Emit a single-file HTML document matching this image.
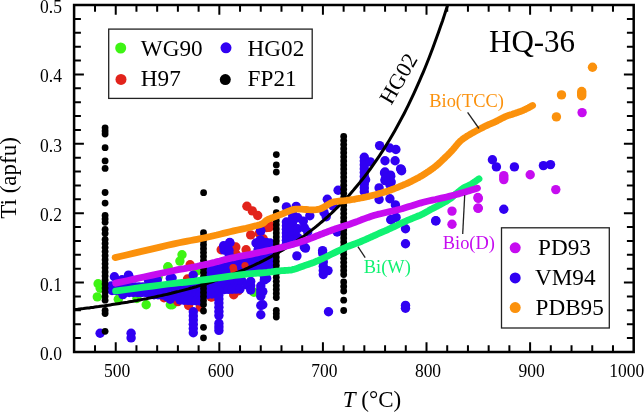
<!DOCTYPE html><html><head><meta charset="utf-8"><style>html,body{margin:0;padding:0;background:#fff;}svg{display:block;will-change:transform;filter:blur(0.35px);} text{font-family:"Liberation Serif",serif;}</style></head><body><svg width="644" height="412" viewBox="0 0 644 412"><g fill="none" stroke="#3ef414" stroke-width="9.4" stroke-linecap="round" stroke-linejoin="round"><path d="M98.1,283.7h0"/><path d="M97.3,296.9h0"/><path d="M100.2,288.3h0"/><path d="M118.3,299.3h0"/><path d="M136.9,298.5h0"/><path d="M146.2,304.7h0"/><path d="M168.0,267.4h0"/><path d="M170.3,304.7h0"/><path d="M157.9,277.5h0"/><path d="M182.0,254.7h0"/><path d="M179.9,261.1h0"/><path d="M167.9,266.7h0"/><path d="M158.0,275.8h0"/><path d="M196.8,270.9h0"/><path d="M172.3,304.7h0"/><path d="M253.9,292.3h0"/></g><g fill="none" stroke="#e2231b" stroke-width="9.4" stroke-linecap="round" stroke-linejoin="round"><path d="M164.0,297.7h0"/><path d="M238.3,289.2h0"/><path d="M233.7,268.2h0"/><path d="M211.9,296.9h0"/><path d="M188.6,305.5h0"/><path d="M177.8,301.6h0"/><path d="M200.3,307.1h0"/><path d="M244.5,266.6h0"/><path d="M253.9,264.3h0"/><path d="M246.9,206.2h0"/><path d="M252.3,210.9h0"/><path d="M257.7,215.5h0"/><path d="M250.7,234.9h0"/><path d="M259.3,233.4h0"/><path d="M263.2,238.8h0"/><path d="M221.2,249.7h0"/><path d="M235.2,247.4h0"/><path d="M246.1,249.7h0"/><path d="M266.7,227.5h0"/><path d="M269.8,225.1h0"/><path d="M211.1,297.0h0"/><path d="M233.7,294.7h0"/><path d="M238.3,290.8h0"/><path d="M235.8,247.0h0"/><path d="M190.1,264.8h0"/><path d="M187.5,279.0h0"/><path d="M236.0,254.0h0"/><path d="M269.1,227.4h0"/></g><g fill="#3000f2"><circle cx="100.1" cy="333.2" r="4.7"/><circle cx="131.1" cy="333.2" r="4.7"/><circle cx="131.1" cy="337.9" r="4.7"/><circle cx="114.4" cy="276.7" r="4.7"/><circle cx="129.1" cy="276.7" r="4.7"/><circle cx="122.1" cy="279.8" r="4.7"/><circle cx="111.3" cy="286.0" r="4.7"/><circle cx="122.9" cy="294.6" r="4.7"/><circle cx="139.2" cy="292.3" r="4.7"/><circle cx="148.5" cy="280.6" r="4.7"/><circle cx="154.7" cy="281.4" r="4.7"/><circle cx="170.3" cy="278.3" r="4.7"/><circle cx="167.2" cy="296.9" r="4.7"/><circle cx="170.3" cy="299.3" r="4.7"/><circle cx="128.5" cy="275.1" r="4.7"/><circle cx="151.7" cy="280.1" r="4.7"/><circle cx="157.3" cy="280.1" r="4.7"/><circle cx="172.1" cy="278.0" r="4.7"/><circle cx="193.2" cy="275.1" r="4.7"/><circle cx="112.0" cy="287.0" r="4.7"/><circle cx="115.9" cy="287.0" r="4.7"/><circle cx="119.8" cy="287.0" r="4.7"/><circle cx="123.6" cy="287.0" r="4.7"/><circle cx="127.5" cy="287.0" r="4.7"/><circle cx="131.4" cy="287.0" r="4.7"/><circle cx="135.2" cy="287.0" r="4.7"/><circle cx="139.1" cy="287.0" r="4.7"/><circle cx="143.0" cy="287.0" r="4.7"/><circle cx="146.9" cy="287.0" r="4.7"/><circle cx="150.8" cy="287.0" r="4.7"/><circle cx="154.6" cy="287.0" r="4.7"/><circle cx="158.5" cy="287.0" r="4.7"/><circle cx="162.4" cy="287.0" r="4.7"/><circle cx="166.2" cy="287.0" r="4.7"/><circle cx="170.1" cy="287.0" r="4.7"/><circle cx="174.0" cy="287.0" r="4.7"/><circle cx="112.0" cy="290.5" r="4.7"/><circle cx="115.9" cy="290.5" r="4.7"/><circle cx="119.8" cy="290.5" r="4.7"/><circle cx="123.6" cy="290.5" r="4.7"/><circle cx="127.5" cy="290.5" r="4.7"/><circle cx="131.4" cy="290.5" r="4.7"/><circle cx="135.2" cy="290.5" r="4.7"/><circle cx="139.1" cy="290.5" r="4.7"/><circle cx="143.0" cy="290.5" r="4.7"/><circle cx="146.9" cy="290.5" r="4.7"/><circle cx="150.8" cy="290.5" r="4.7"/><circle cx="154.6" cy="290.5" r="4.7"/><circle cx="158.5" cy="290.5" r="4.7"/><circle cx="162.4" cy="290.5" r="4.7"/><circle cx="166.2" cy="290.5" r="4.7"/><circle cx="170.1" cy="290.5" r="4.7"/><circle cx="174.0" cy="290.5" r="4.7"/><circle cx="125.0" cy="292.5" r="4.7"/><circle cx="129.2" cy="292.5" r="4.7"/><circle cx="133.3" cy="292.5" r="4.7"/><circle cx="137.5" cy="292.5" r="4.7"/><circle cx="141.7" cy="292.5" r="4.7"/><circle cx="145.8" cy="292.5" r="4.7"/><circle cx="150.0" cy="292.5" r="4.7"/><circle cx="150.0" cy="294.5" r="4.7"/><circle cx="154.0" cy="294.7" r="4.7"/><circle cx="158.0" cy="294.8" r="4.7"/><circle cx="162.0" cy="295.0" r="4.7"/><circle cx="166.0" cy="295.2" r="4.7"/><circle cx="170.0" cy="295.3" r="4.7"/><circle cx="174.0" cy="295.5" r="4.7"/><circle cx="174.0" cy="285.0" r="4.7"/><circle cx="178.0" cy="284.8" r="4.7"/><circle cx="182.0" cy="284.5" r="4.7"/><circle cx="186.0" cy="284.3" r="4.7"/><circle cx="190.0" cy="284.1" r="4.7"/><circle cx="194.0" cy="283.8" r="4.7"/><circle cx="198.0" cy="283.6" r="4.7"/><circle cx="202.0" cy="283.4" r="4.7"/><circle cx="206.0" cy="283.1" r="4.7"/><circle cx="210.0" cy="282.9" r="4.7"/><circle cx="214.0" cy="282.6" r="4.7"/><circle cx="218.0" cy="282.4" r="4.7"/><circle cx="222.0" cy="282.2" r="4.7"/><circle cx="226.0" cy="281.9" r="4.7"/><circle cx="230.0" cy="281.7" r="4.7"/><circle cx="234.0" cy="281.5" r="4.7"/><circle cx="238.0" cy="281.2" r="4.7"/><circle cx="242.0" cy="281.0" r="4.7"/><circle cx="174.0" cy="291.0" r="4.7"/><circle cx="177.9" cy="290.9" r="4.7"/><circle cx="181.8" cy="290.8" r="4.7"/><circle cx="185.6" cy="290.6" r="4.7"/><circle cx="189.5" cy="290.5" r="4.7"/><circle cx="193.4" cy="290.4" r="4.7"/><circle cx="197.3" cy="290.3" r="4.7"/><circle cx="201.2" cy="290.2" r="4.7"/><circle cx="205.1" cy="290.1" r="4.7"/><circle cx="208.9" cy="289.9" r="4.7"/><circle cx="212.8" cy="289.8" r="4.7"/><circle cx="216.7" cy="289.7" r="4.7"/><circle cx="220.6" cy="289.6" r="4.7"/><circle cx="224.5" cy="289.5" r="4.7"/><circle cx="228.4" cy="289.4" r="4.7"/><circle cx="232.2" cy="289.2" r="4.7"/><circle cx="236.1" cy="289.1" r="4.7"/><circle cx="240.0" cy="289.0" r="4.7"/><circle cx="176.0" cy="296.0" r="4.7"/><circle cx="180.0" cy="295.8" r="4.7"/><circle cx="184.0" cy="295.6" r="4.7"/><circle cx="188.0" cy="295.3" r="4.7"/><circle cx="192.0" cy="295.1" r="4.7"/><circle cx="196.0" cy="294.9" r="4.7"/><circle cx="200.0" cy="294.7" r="4.7"/><circle cx="204.0" cy="294.4" r="4.7"/><circle cx="208.0" cy="294.2" r="4.7"/><circle cx="212.0" cy="294.0" r="4.7"/><circle cx="180.0" cy="300.0" r="4.7"/><circle cx="184.0" cy="300.2" r="4.7"/><circle cx="188.0" cy="300.4" r="4.7"/><circle cx="192.0" cy="300.6" r="4.7"/><circle cx="196.0" cy="300.8" r="4.7"/><circle cx="200.0" cy="301.0" r="4.7"/><circle cx="212.0" cy="268.0" r="4.7"/><circle cx="216.0" cy="267.3" r="4.7"/><circle cx="220.0" cy="266.6" r="4.7"/><circle cx="224.0" cy="265.9" r="4.7"/><circle cx="228.0" cy="265.2" r="4.7"/><circle cx="232.0" cy="264.5" r="4.7"/><circle cx="236.0" cy="263.8" r="4.7"/><circle cx="240.0" cy="263.1" r="4.7"/><circle cx="244.0" cy="262.4" r="4.7"/><circle cx="248.0" cy="261.7" r="4.7"/><circle cx="252.0" cy="261.0" r="4.7"/><circle cx="256.0" cy="260.3" r="4.7"/><circle cx="260.0" cy="259.6" r="4.7"/><circle cx="264.0" cy="258.9" r="4.7"/><circle cx="268.0" cy="258.2" r="4.7"/><circle cx="272.0" cy="257.5" r="4.7"/><circle cx="208.0" cy="272.0" r="4.7"/><circle cx="212.0" cy="271.5" r="4.7"/><circle cx="216.0" cy="271.0" r="4.7"/><circle cx="220.0" cy="270.5" r="4.7"/><circle cx="224.0" cy="270.0" r="4.7"/><circle cx="228.0" cy="269.5" r="4.7"/><circle cx="232.0" cy="269.0" r="4.7"/><circle cx="236.0" cy="268.5" r="4.7"/><circle cx="240.0" cy="268.0" r="4.7"/><circle cx="244.0" cy="267.5" r="4.7"/><circle cx="248.0" cy="267.0" r="4.7"/><circle cx="252.0" cy="266.5" r="4.7"/><circle cx="256.0" cy="266.0" r="4.7"/><circle cx="260.0" cy="265.5" r="4.7"/><circle cx="264.0" cy="265.0" r="4.7"/><circle cx="268.0" cy="264.5" r="4.7"/><circle cx="272.0" cy="264.0" r="4.7"/><circle cx="208.0" cy="276.0" r="4.7"/><circle cx="212.0" cy="275.6" r="4.7"/><circle cx="216.0" cy="275.2" r="4.7"/><circle cx="220.0" cy="274.9" r="4.7"/><circle cx="224.0" cy="274.5" r="4.7"/><circle cx="228.0" cy="274.1" r="4.7"/><circle cx="232.0" cy="273.8" r="4.7"/><circle cx="236.0" cy="273.4" r="4.7"/><circle cx="240.0" cy="273.0" r="4.7"/><circle cx="244.0" cy="272.6" r="4.7"/><circle cx="248.0" cy="272.2" r="4.7"/><circle cx="252.0" cy="271.9" r="4.7"/><circle cx="256.0" cy="271.5" r="4.7"/><circle cx="260.0" cy="271.1" r="4.7"/><circle cx="264.0" cy="270.8" r="4.7"/><circle cx="268.0" cy="270.4" r="4.7"/><circle cx="272.0" cy="270.0" r="4.7"/><circle cx="229.0" cy="254.0" r="4.7"/><circle cx="224.0" cy="250.0" r="4.7"/><circle cx="256.0" cy="243.0" r="4.7"/><circle cx="259.5" cy="243.0" r="4.7"/><circle cx="263.0" cy="243.0" r="4.7"/><circle cx="266.5" cy="243.0" r="4.7"/><circle cx="270.0" cy="243.0" r="4.7"/><circle cx="258.0" cy="250.0" r="4.7"/><circle cx="262.0" cy="250.0" r="4.7"/><circle cx="266.0" cy="250.0" r="4.7"/><circle cx="270.0" cy="250.0" r="4.7"/><circle cx="226.1" cy="246.2" r="4.7"/><circle cx="229.8" cy="242.5" r="4.7"/><circle cx="247.0" cy="285.0" r="4.7"/><circle cx="193.3" cy="311.7" r="4.7"/><circle cx="193.3" cy="315.9" r="4.7"/><circle cx="193.3" cy="320.1" r="4.7"/><circle cx="193.3" cy="324.3" r="4.7"/><circle cx="193.3" cy="328.5" r="4.7"/><circle cx="193.3" cy="332.7" r="4.7"/><circle cx="218.9" cy="290.7" r="4.7"/><circle cx="218.9" cy="294.9" r="4.7"/><circle cx="218.9" cy="299.0" r="4.7"/><circle cx="218.9" cy="303.1" r="4.7"/><circle cx="218.9" cy="307.3" r="4.7"/><circle cx="218.9" cy="311.5" r="4.7"/><circle cx="218.9" cy="315.6" r="4.7"/><circle cx="218.9" cy="323.4" r="4.7"/><circle cx="218.9" cy="326.9" r="4.7"/><circle cx="218.9" cy="330.4" r="4.7"/><circle cx="250.7" cy="281.4" r="4.7"/><circle cx="250.7" cy="285.7" r="4.7"/><circle cx="250.7" cy="290.0" r="4.7"/><circle cx="260.8" cy="286.0" r="4.7"/><circle cx="260.8" cy="289.4" r="4.7"/><circle cx="260.8" cy="292.8" r="4.7"/><circle cx="260.8" cy="296.2" r="4.7"/><circle cx="260.8" cy="305.5" r="4.7"/><circle cx="260.8" cy="314.8" r="4.7"/><circle cx="223.6" cy="245.8" r="4.7"/><circle cx="229.8" cy="242.7" r="4.7"/><circle cx="229.0" cy="250.5" r="4.7"/><circle cx="260.8" cy="231.1" r="4.7"/><circle cx="260.0" cy="240.4" r="4.7"/><circle cx="266.3" cy="242.7" r="4.7"/><circle cx="258.5" cy="246.6" r="4.7"/><circle cx="260.6" cy="230.2" r="4.7"/><circle cx="260.6" cy="240.1" r="4.7"/><circle cx="265.6" cy="242.9" r="4.7"/><circle cx="264.3" cy="245.0" r="4.7"/><circle cx="264.3" cy="248.9" r="4.7"/><circle cx="264.3" cy="252.8" r="4.7"/><circle cx="264.3" cy="256.7" r="4.7"/><circle cx="264.3" cy="260.6" r="4.7"/><circle cx="264.3" cy="264.4" r="4.7"/><circle cx="264.3" cy="268.3" r="4.7"/><circle cx="264.3" cy="272.2" r="4.7"/><circle cx="264.3" cy="276.1" r="4.7"/><circle cx="264.3" cy="280.0" r="4.7"/><circle cx="262.8" cy="291.6" r="4.7"/><circle cx="262.8" cy="304.8" r="4.7"/><circle cx="266.7" cy="278.4" r="4.7"/><circle cx="286.4" cy="206.9" r="4.7"/><circle cx="296.2" cy="206.4" r="4.7"/><circle cx="286.4" cy="222.0" r="4.7"/><circle cx="286.4" cy="225.7" r="4.7"/><circle cx="286.4" cy="229.3" r="4.7"/><circle cx="286.4" cy="233.0" r="4.7"/><circle cx="286.4" cy="236.7" r="4.7"/><circle cx="286.4" cy="240.3" r="4.7"/><circle cx="286.4" cy="244.0" r="4.7"/><circle cx="292.5" cy="214.0" r="4.7"/><circle cx="292.5" cy="218.3" r="4.7"/><circle cx="292.5" cy="222.7" r="4.7"/><circle cx="292.5" cy="227.0" r="4.7"/><circle cx="292.5" cy="231.3" r="4.7"/><circle cx="292.5" cy="235.7" r="4.7"/><circle cx="292.5" cy="240.0" r="4.7"/><circle cx="297.8" cy="217.8" r="4.7"/><circle cx="303.3" cy="221.1" r="4.7"/><circle cx="309.8" cy="215.7" r="4.7"/><circle cx="297.8" cy="228.8" r="4.7"/><circle cx="304.4" cy="227.7" r="4.7"/><circle cx="297.8" cy="237.5" r="4.7"/><circle cx="307.7" cy="232.0" r="4.7"/><circle cx="326.2" cy="216.7" r="4.7"/><circle cx="327.3" cy="199.3" r="4.7"/><circle cx="324.0" cy="212.4" r="4.7"/><circle cx="337.1" cy="232.0" r="4.7"/><circle cx="333.0" cy="206.0" r="4.7"/><circle cx="338.1" cy="190.2" r="4.7"/><circle cx="304.3" cy="247.1" r="4.7"/><circle cx="322.6" cy="250.6" r="4.7"/><circle cx="296.9" cy="255.9" r="4.7"/><circle cx="305.5" cy="248.1" r="4.7"/><circle cx="322.6" cy="252.8" r="4.7"/><circle cx="323.3" cy="262.1" r="4.7"/><circle cx="323.3" cy="266.2" r="4.7"/><circle cx="323.3" cy="270.4" r="4.7"/><circle cx="323.3" cy="274.5" r="4.7"/><circle cx="328.0" cy="270.6" r="4.7"/><circle cx="328.5" cy="311.8" r="4.7"/><circle cx="364.3" cy="157.3" r="4.7"/><circle cx="364.3" cy="161.1" r="4.7"/><circle cx="364.3" cy="164.9" r="4.7"/><circle cx="364.3" cy="168.8" r="4.7"/><circle cx="364.3" cy="172.6" r="4.7"/><circle cx="364.3" cy="176.4" r="4.7"/><circle cx="364.3" cy="180.2" r="4.7"/><circle cx="364.3" cy="184.1" r="4.7"/><circle cx="364.3" cy="187.9" r="4.7"/><circle cx="364.3" cy="191.7" r="4.7"/><circle cx="370.3" cy="161.9" r="4.7"/><circle cx="365.6" cy="179.8" r="4.7"/><circle cx="379.6" cy="145.6" r="4.7"/><circle cx="389.7" cy="148.0" r="4.7"/><circle cx="395.9" cy="149.5" r="4.7"/><circle cx="385.0" cy="160.7" r="4.7"/><circle cx="395.1" cy="160.7" r="4.7"/><circle cx="400.6" cy="168.9" r="4.7"/><circle cx="385.0" cy="172.0" r="4.7"/><circle cx="390.5" cy="175.1" r="4.7"/><circle cx="385.0" cy="180.6" r="4.7"/><circle cx="391.2" cy="182.1" r="4.7"/><circle cx="401.6" cy="170.8" r="4.7"/><circle cx="384.5" cy="173.1" r="4.7"/><circle cx="390.7" cy="176.2" r="4.7"/><circle cx="385.3" cy="179.3" r="4.7"/><circle cx="389.9" cy="184.8" r="4.7"/><circle cx="379.1" cy="187.9" r="4.7"/><circle cx="379.1" cy="199.5" r="4.7"/><circle cx="389.9" cy="198.7" r="4.7"/><circle cx="395.4" cy="204.9" r="4.7"/><circle cx="390.7" cy="219.7" r="4.7"/><circle cx="396.1" cy="217.4" r="4.7"/><circle cx="391.5" cy="219.7" r="4.7"/><circle cx="405.5" cy="228.7" r="4.7"/><circle cx="405.5" cy="243.7" r="4.7"/><circle cx="405.5" cy="305.4" r="4.7"/><circle cx="405.5" cy="308.2" r="4.7"/><circle cx="435.7" cy="220.9" r="4.7"/><circle cx="401.2" cy="169.5" r="4.7"/></g><g fill="none" stroke="#e2231b" stroke-width="7.2" stroke-linecap="round" stroke-linejoin="round"><path d="M233.0,267.5h0"/><path d="M233.5,268.0 L234.0,271.5" stroke-width="7.2"/><path d="M245.0,265.5h0"/></g><g fill="#000"><circle cx="105.1" cy="127.8" r="3.4"/><circle cx="105.1" cy="130.9" r="3.4"/><circle cx="105.1" cy="134.0" r="3.4"/><circle cx="105.1" cy="147.7" r="3.4"/><circle cx="105.1" cy="160.9" r="3.4"/><circle cx="105.1" cy="168.4" r="3.4"/><circle cx="105.1" cy="192.5" r="3.4"/><circle cx="105.1" cy="203.1" r="3.4"/><circle cx="105.1" cy="215.5" r="3.4"/><circle cx="105.1" cy="218.9" r="3.4"/><circle cx="105.1" cy="222.3" r="3.4"/><circle cx="105.1" cy="229.5" r="3.4"/><circle cx="105.1" cy="233.5" r="3.4"/><circle cx="105.1" cy="239.5" r="3.4"/><circle cx="105.1" cy="243.5" r="3.4"/><circle cx="105.1" cy="247.6" r="3.4"/><circle cx="105.1" cy="251.6" r="3.4"/><circle cx="105.1" cy="255.7" r="3.4"/><circle cx="105.1" cy="259.7" r="3.4"/><circle cx="105.1" cy="263.8" r="3.4"/><circle cx="105.1" cy="267.8" r="3.4"/><circle cx="105.1" cy="271.9" r="3.4"/><circle cx="105.1" cy="275.9" r="3.4"/><circle cx="105.1" cy="280.0" r="3.4"/><circle cx="105.1" cy="284.0" r="3.4"/><circle cx="105.1" cy="288.1" r="3.4"/><circle cx="105.1" cy="292.1" r="3.4"/><circle cx="105.1" cy="296.2" r="3.4"/><circle cx="105.1" cy="300.2" r="3.4"/><circle cx="105.1" cy="310.4" r="3.4"/><circle cx="105.1" cy="313.5" r="3.4"/><circle cx="105.1" cy="331.3" r="3.4"/><circle cx="203.6" cy="192.7" r="3.4"/><circle cx="203.5" cy="232.7" r="3.4"/><circle cx="203.5" cy="236.7" r="3.4"/><circle cx="203.5" cy="240.7" r="3.4"/><circle cx="203.5" cy="244.7" r="3.4"/><circle cx="203.5" cy="248.7" r="3.4"/><circle cx="203.5" cy="252.6" r="3.4"/><circle cx="203.5" cy="256.6" r="3.4"/><circle cx="203.5" cy="260.6" r="3.4"/><circle cx="203.5" cy="264.6" r="3.4"/><circle cx="203.5" cy="268.6" r="3.4"/><circle cx="203.5" cy="272.6" r="3.4"/><circle cx="203.5" cy="276.6" r="3.4"/><circle cx="203.5" cy="280.6" r="3.4"/><circle cx="203.5" cy="284.6" r="3.4"/><circle cx="203.5" cy="288.5" r="3.4"/><circle cx="203.5" cy="292.5" r="3.4"/><circle cx="203.5" cy="296.5" r="3.4"/><circle cx="203.5" cy="300.5" r="3.4"/><circle cx="203.5" cy="304.5" r="3.4"/><circle cx="203.5" cy="311.0" r="3.4"/><circle cx="203.5" cy="327.3" r="3.4"/><circle cx="203.5" cy="337.8" r="3.4"/><circle cx="276.3" cy="154.6" r="3.4"/><circle cx="276.3" cy="164.9" r="3.4"/><circle cx="276.3" cy="172.1" r="3.4"/><circle cx="276.3" cy="199.4" r="3.4"/><circle cx="276.3" cy="212.7" r="3.4"/><circle cx="276.3" cy="216.7" r="3.4"/><circle cx="276.3" cy="220.8" r="3.4"/><circle cx="276.3" cy="224.8" r="3.4"/><circle cx="276.3" cy="228.9" r="3.4"/><circle cx="276.3" cy="232.9" r="3.4"/><circle cx="276.3" cy="236.9" r="3.4"/><circle cx="276.3" cy="241.0" r="3.4"/><circle cx="276.3" cy="245.0" r="3.4"/><circle cx="276.3" cy="249.0" r="3.4"/><circle cx="276.3" cy="253.1" r="3.4"/><circle cx="276.3" cy="257.1" r="3.4"/><circle cx="276.3" cy="261.2" r="3.4"/><circle cx="276.3" cy="265.2" r="3.4"/><circle cx="276.3" cy="269.2" r="3.4"/><circle cx="276.3" cy="273.3" r="3.4"/><circle cx="276.3" cy="277.3" r="3.4"/><circle cx="276.3" cy="281.3" r="3.4"/><circle cx="276.3" cy="285.4" r="3.4"/><circle cx="276.3" cy="289.4" r="3.4"/><circle cx="276.3" cy="293.5" r="3.4"/><circle cx="276.3" cy="297.5" r="3.4"/><circle cx="276.3" cy="310.3" r="3.4"/><circle cx="276.3" cy="313.6" r="3.4"/><circle cx="276.3" cy="317.0" r="3.4"/><circle cx="343.7" cy="136.5" r="3.4"/><circle cx="343.7" cy="140.6" r="3.4"/><circle cx="343.7" cy="144.6" r="3.4"/><circle cx="343.7" cy="148.7" r="3.4"/><circle cx="343.7" cy="152.7" r="3.4"/><circle cx="343.7" cy="156.8" r="3.4"/><circle cx="343.7" cy="160.9" r="3.4"/><circle cx="343.7" cy="164.9" r="3.4"/><circle cx="343.7" cy="169.0" r="3.4"/><circle cx="343.7" cy="173.0" r="3.4"/><circle cx="343.7" cy="177.1" r="3.4"/><circle cx="343.7" cy="181.1" r="3.4"/><circle cx="343.7" cy="185.2" r="3.4"/><circle cx="343.7" cy="189.3" r="3.4"/><circle cx="343.7" cy="193.3" r="3.4"/><circle cx="343.7" cy="197.4" r="3.4"/><circle cx="343.7" cy="201.4" r="3.4"/><circle cx="343.7" cy="205.5" r="3.4"/><circle cx="343.7" cy="209.6" r="3.4"/><circle cx="343.7" cy="213.6" r="3.4"/><circle cx="343.7" cy="217.7" r="3.4"/><circle cx="343.7" cy="221.7" r="3.4"/><circle cx="343.7" cy="225.8" r="3.4"/><circle cx="343.7" cy="229.9" r="3.4"/><circle cx="343.7" cy="233.9" r="3.4"/><circle cx="343.7" cy="238.0" r="3.4"/><circle cx="343.7" cy="242.0" r="3.4"/><circle cx="343.7" cy="246.1" r="3.4"/><circle cx="343.7" cy="250.1" r="3.4"/><circle cx="343.7" cy="254.2" r="3.4"/><circle cx="343.7" cy="258.3" r="3.4"/><circle cx="343.7" cy="262.3" r="3.4"/><circle cx="343.7" cy="266.4" r="3.4"/><circle cx="343.7" cy="270.4" r="3.4"/><circle cx="343.7" cy="274.5" r="3.4"/><circle cx="343.7" cy="282.0" r="3.4"/><circle cx="343.7" cy="286.5" r="3.4"/><circle cx="343.7" cy="291.0" r="3.4"/><circle cx="343.7" cy="300.2" r="3.4"/><circle cx="343.7" cy="310.5" r="3.4"/></g><g clip-path="url(#pc)"><path d="M72.0,309.9 L73.9,309.7 L75.8,309.5 L77.7,309.3 L79.6,309.0 L81.5,308.8 L83.5,308.6 L85.4,308.3 L87.3,308.1 L89.2,307.9 L91.1,307.6 L93.0,307.4 L94.9,307.1 L96.8,306.8 L98.7,306.6 L100.6,306.3 L102.6,306.0 L104.5,305.8 L106.4,305.5 L108.3,305.2 L110.2,304.9 L112.1,304.6 L114.0,304.3 L115.9,304.0 L117.8,303.7 L119.7,303.4 L121.6,303.1 L123.6,302.8 L125.5,302.5 L127.4,302.2 L129.3,301.8 L131.2,301.5 L133.1,301.2 L135.0,300.8 L136.9,300.5 L138.8,300.1 L140.7,299.8 L142.7,299.4 L144.6,299.0 L146.5,298.7 L148.4,298.3 L150.3,297.9 L152.2,297.5 L154.1,297.1 L156.0,296.7 L157.9,296.3 L159.8,295.9 L161.7,295.5 L163.7,295.0 L165.6,294.6 L167.5,294.2 L169.4,293.7 L171.3,293.3 L173.2,292.8 L175.1,292.3 L177.0,291.8 L178.9,291.4 L180.8,290.9 L182.8,290.4 L184.7,289.9 L186.6,289.4 L188.5,288.9 L190.4,288.3 L192.3,287.8 L194.2,287.2 L196.1,286.7 L198.0,286.1 L199.9,285.6 L201.8,285.0 L203.8,284.4 L205.7,283.8 L207.6,283.2 L209.5,282.6 L211.4,282.0 L213.3,281.3 L215.2,280.7 L217.1,280.0 L219.0,279.4 L220.9,278.7 L222.9,278.0 L224.8,277.3 L226.7,276.6 L228.6,275.9 L230.5,275.2 L232.4,274.4 L234.3,273.7 L236.2,272.9 L238.1,272.2 L240.0,271.4 L241.9,270.6 L243.9,269.8 L245.8,268.9 L247.7,268.1 L249.6,267.2 L251.5,266.4 L253.4,265.5 L255.3,264.6 L257.2,263.7 L259.1,262.8 L261.0,261.8 L263.0,260.9 L264.9,259.9 L266.8,258.9 L268.7,257.9 L270.6,256.9 L272.5,255.8 L274.4,254.8 L276.3,253.7 L278.2,252.6 L280.1,251.5 L282.1,250.4 L284.0,249.2 L285.9,248.0 L287.8,246.9 L289.7,245.6 L291.6,244.4 L293.5,243.2 L295.4,241.9 L297.3,240.6 L299.2,239.3 L301.1,237.9 L303.1,236.6 L305.0,235.2 L306.9,233.8 L308.8,232.3 L310.7,230.9 L312.6,229.4 L314.5,227.9 L316.4,226.3 L318.3,224.8 L320.2,223.2 L322.2,221.5 L324.1,219.9 L326.0,218.2 L327.9,216.5 L329.8,214.7 L331.7,213.0 L333.6,211.1 L335.5,209.3 L337.4,207.4 L339.3,205.5 L341.2,203.6 L343.2,201.6 L345.1,199.5 L347.0,197.5 L348.9,195.4 L350.8,193.2 L352.7,191.1 L354.6,188.8 L356.5,186.6 L358.4,184.3 L360.3,181.9 L362.3,179.5 L364.2,177.1 L366.1,174.6 L368.0,172.1 L369.9,169.5 L371.8,166.8 L373.7,164.2 L375.6,161.4 L377.5,158.6 L379.4,155.8 L381.3,152.9 L383.3,149.9 L385.2,146.9 L387.1,143.8 L389.0,140.7 L390.9,137.5 L392.8,134.2 L394.7,130.9 L396.6,127.5 L398.5,124.0 L400.4,120.5 L402.4,116.8 L404.3,113.2 L406.2,109.4 L408.1,105.6 L410.0,101.6 L411.9,97.6 L413.8,93.6 L415.7,89.4 L417.6,85.1 L419.5,80.8 L421.4,76.4 L423.4,71.8 L425.3,67.2 L427.2,62.5 L429.1,57.7 L431.0,52.7 L432.9,47.7 L434.8,42.6 L436.7,37.3 L438.6,31.9 L440.5,26.5 L442.5,20.9 L444.4,15.1 L446.3,9.3 L448.2,3.3 L450.1,-2.8 L452.0,-9.0" fill="none" stroke="#000" stroke-width="3"/></g><path d="M115.6,291.0 L120.4,290.4 L127.1,289.5 L135.1,288.4 L143.8,287.2 L152.6,286.1 L161.0,285.0 L168.3,284.0 L174.0,283.3 L177.8,282.8 L180.2,282.6 L181.6,282.5 L182.5,282.5 L183.4,282.4 L184.6,282.3 L186.7,282.1 L190.0,281.7 L194.8,281.1 L200.7,280.2 L207.4,279.3 L214.5,278.3 L221.6,277.3 L228.5,276.3 L234.7,275.5 L240.0,274.8 L244.4,274.3 L248.2,273.9 L251.6,273.6 L254.6,273.4 L257.3,273.2 L259.9,273.0 L262.3,272.8 L264.8,272.6 L267.2,272.4 L269.4,272.1 L271.3,271.9 L273.2,271.6 L275.0,271.4 L276.7,271.2 L278.3,271.0 L280.0,270.8 L281.7,270.7 L283.2,270.6 L284.7,270.5 L286.2,270.4 L287.6,270.4 L289.1,270.2 L290.5,270.1 L292.0,269.8 L293.5,269.4 L295.1,269.0 L296.7,268.5 L298.3,267.9 L299.9,267.3 L301.4,266.7 L302.9,266.2 L304.3,265.7 L305.6,265.2 L306.9,264.8 L308.1,264.4 L309.3,264.0 L310.5,263.6 L311.6,263.2 L312.8,262.8 L314.0,262.3 L315.1,261.8 L316.1,261.4 L317.1,261.0 L318.1,260.6 L319.2,260.1 L320.4,259.5 L321.9,258.8 L323.7,258.0 L325.9,257.0 L328.4,255.7 L331.3,254.3 L334.2,252.9 L337.3,251.4 L340.2,250.0 L343.0,248.6 L345.5,247.5 L347.7,246.5 L349.8,245.7 L351.8,245.0 L353.7,244.3 L355.5,243.6 L357.3,242.9 L359.1,242.3 L361.0,241.5 L362.9,240.7 L364.8,239.9 L366.7,239.0 L368.6,238.2 L370.4,237.3 L372.3,236.5 L374.2,235.6 L376.0,234.8 L377.8,234.0 L379.6,233.2 L381.4,232.4 L383.2,231.6 L385.0,230.9 L386.8,230.1 L388.6,229.2 L390.5,228.4 L392.4,227.5 L394.3,226.6 L396.2,225.7 L398.2,224.7 L400.1,223.8 L402.1,222.8 L404.1,221.9 L406.0,221.0 L408.0,220.1 L410.0,219.3 L412.1,218.5 L414.1,217.6 L416.1,216.8 L418.1,216.0 L419.9,215.3 L421.6,214.5 L423.1,213.8 L424.6,213.0 L425.9,212.3 L427.2,211.6 L428.4,210.9 L429.5,210.2 L430.6,209.6 L431.7,209.0 L432.7,208.5 L433.6,208.0 L434.4,207.6 L435.2,207.2 L436.0,206.8 L436.9,206.3 L437.8,205.9 L438.8,205.3 L439.9,204.7 L441.2,204.0 L442.5,203.3 L443.9,202.5 L445.3,201.8 L446.6,201.0 L447.9,200.2 L449.0,199.5 L450.0,198.8 L451.0,198.1 L451.8,197.4 L452.7,196.6 L453.5,195.9 L454.3,195.2 L455.1,194.5 L456.0,193.8 L456.9,193.1 L457.8,192.4 L458.7,191.6 L459.6,190.9 L460.5,190.2 L461.4,189.5 L462.4,188.8 L463.3,188.2 L464.2,187.6 L465.2,187.1 L466.1,186.7 L467.1,186.2 L468.1,185.8 L469.0,185.3 L470.0,184.9 L471.0,184.3 L472.0,183.7 L473.2,182.9 L474.3,182.1 L475.5,181.3 L476.6,180.5 L477.6,179.8 L478.4,179.2 L479.0,178.8" fill="none" stroke="#10f272" stroke-width="6.8" stroke-linecap="round" stroke-linejoin="round"/><path d="M115.6,283.2 L120.4,282.2 L127.1,280.7 L135.1,278.9 L143.8,277.0 L152.6,275.1 L161.0,273.3 L168.3,271.7 L174.0,270.5 L178.0,269.7 L180.9,269.1 L182.9,268.8 L184.4,268.6 L185.6,268.4 L186.7,268.3 L188.1,268.0 L190.0,267.7 L192.3,267.2 L194.7,266.8 L197.2,266.3 L199.8,265.7 L202.3,265.2 L204.9,264.6 L207.5,264.1 L210.0,263.5 L212.5,262.9 L215.0,262.3 L217.4,261.6 L219.9,261.0 L222.4,260.3 L224.9,259.6 L227.4,259.0 L230.0,258.4 L232.6,257.8 L235.3,257.3 L238.0,256.7 L240.7,256.2 L243.5,255.7 L246.2,255.2 L249.0,254.7 L251.7,254.1 L254.5,253.5 L257.3,252.9 L260.1,252.3 L262.9,251.7 L265.7,251.1 L268.4,250.5 L271.0,250.0 L273.5,249.4 L275.8,248.9 L278.0,248.3 L280.0,247.8 L282.0,247.3 L284.0,246.8 L285.9,246.3 L287.8,245.8 L289.8,245.2 L291.8,244.6 L293.8,244.1 L295.7,243.5 L297.7,242.9 L299.6,242.3 L301.6,241.6 L303.5,241.0 L305.5,240.3 L307.5,239.6 L309.4,238.8 L311.4,238.1 L313.3,237.3 L315.3,236.5 L317.2,235.7 L319.2,235.0 L321.1,234.2 L323.1,233.5 L325.0,232.7 L327.0,232.0 L329.0,231.2 L331.0,230.5 L332.9,229.8 L334.8,229.1 L336.6,228.5 L338.3,227.9 L339.8,227.4 L341.2,227.0 L342.6,226.5 L344.0,226.1 L345.7,225.6 L347.5,224.9 L349.7,224.2 L352.2,223.3 L355.1,222.2 L358.2,221.1 L361.4,219.8 L364.7,218.6 L368.0,217.4 L371.3,216.3 L374.5,215.3 L377.6,214.4 L380.7,213.7 L383.7,213.0 L386.8,212.3 L389.8,211.6 L392.9,211.0 L395.9,210.3 L399.0,209.5 L402.1,208.7 L405.1,207.8 L408.2,206.8 L411.2,205.9 L414.3,204.9 L417.3,204.0 L420.3,203.1 L423.3,202.3 L426.3,201.5 L429.4,200.8 L432.4,200.1 L435.4,199.5 L438.4,198.8 L441.3,198.2 L444.0,197.6 L446.6,197.0 L449.0,196.4 L451.3,195.8 L453.5,195.2 L455.5,194.7 L457.5,194.1 L459.5,193.6 L461.4,193.0 L463.3,192.5 L465.3,191.9 L467.4,191.3 L469.4,190.7 L471.4,190.1 L473.3,189.5 L475.0,189.0 L476.4,188.5 L477.5,188.2" fill="none" stroke="#c60cf0" stroke-width="6.8" stroke-linecap="round" stroke-linejoin="round"/><path d="M115.1,257.6 L119.8,256.5 L126.4,255.0 L134.2,253.1 L142.7,251.1 L151.5,249.1 L160.0,247.1 L167.6,245.3 L174.0,243.9 L179.1,242.8 L183.5,241.9 L187.4,241.1 L190.8,240.5 L194.0,239.9 L197.1,239.3 L200.3,238.7 L203.6,238.0 L207.0,237.2 L210.3,236.5 L213.6,235.7 L216.8,235.0 L220.0,234.2 L223.2,233.4 L226.6,232.6 L230.0,231.8 L233.7,230.9 L237.7,230.0 L241.9,229.1 L246.1,228.2 L250.1,227.2 L253.8,226.3 L257.1,225.5 L259.8,224.7 L261.8,224.0 L263.1,223.3 L264.0,222.7 L264.6,222.1 L265.1,221.5 L265.6,221.0 L266.3,220.4 L267.3,219.8 L268.6,219.2 L270.1,218.6 L271.6,218.0 L273.2,217.4 L274.8,216.7 L276.5,216.1 L278.1,215.5 L279.7,214.9 L281.3,214.3 L282.9,213.6 L284.6,212.8 L286.2,212.1 L287.8,211.5 L289.3,210.9 L290.8,210.3 L292.1,209.9 L293.2,209.6 L294.1,209.4 L294.8,209.3 L295.5,209.2 L296.2,209.2 L297.0,209.2 L298.2,209.2 L299.6,209.2 L301.4,209.2 L303.6,209.4 L306.0,209.5 L308.6,209.7 L311.2,209.8 L313.8,209.8 L316.2,209.7 L318.4,209.4 L320.4,208.8 L322.3,208.0 L324.1,207.0 L325.8,206.0 L327.5,204.9 L329.2,203.9 L330.8,203.0 L332.5,202.3 L334.2,201.8 L335.8,201.5 L337.4,201.3 L339.0,201.1 L340.5,201.0 L342.1,200.9 L343.5,200.8 L345.0,200.6 L346.4,200.4 L347.6,200.2 L348.9,200.1 L350.1,199.9 L351.3,199.7 L352.6,199.5 L354.0,199.3 L355.5,199.0 L357.2,198.7 L359.0,198.3 L360.9,198.0 L362.9,197.6 L365.0,197.2 L367.0,196.7 L369.0,196.3 L371.0,195.8 L373.0,195.3 L375.1,194.8 L377.2,194.2 L379.2,193.6 L381.3,193.0 L383.2,192.4 L385.0,191.9 L386.6,191.4 L388.0,191.0 L389.1,190.6 L390.1,190.3 L391.0,189.9 L391.9,189.6 L392.8,189.3 L393.8,188.9 L395.0,188.4 L396.3,187.9 L397.8,187.3 L399.3,186.7 L400.9,186.0 L402.5,185.4 L404.1,184.7 L405.7,184.0 L407.2,183.3 L408.7,182.6 L410.3,181.8 L411.9,181.1 L413.4,180.3 L414.9,179.5 L416.4,178.7 L417.9,178.0 L419.3,177.2 L420.6,176.4 L422.0,175.7 L423.2,174.9 L424.4,174.1 L425.6,173.3 L426.8,172.6 L427.9,171.8 L429.0,171.1 L430.0,170.4 L431.0,169.7 L431.9,169.1 L432.8,168.4 L433.7,167.8 L434.5,167.1 L435.4,166.4 L436.3,165.7 L437.2,164.9 L438.1,164.2 L439.0,163.4 L439.9,162.5 L440.8,161.7 L441.7,160.8 L442.6,159.9 L443.6,159.0 L444.6,158.0 L445.6,157.0 L446.7,156.0 L447.8,155.0 L448.8,153.9 L449.9,152.8 L451.0,151.6 L452.1,150.5 L453.2,149.3 L454.3,148.0 L455.3,146.7 L456.4,145.4 L457.5,144.1 L458.6,142.8 L459.8,141.6 L461.0,140.5 L462.2,139.5 L463.5,138.5 L464.8,137.6 L466.1,136.8 L467.4,135.9 L468.8,135.1 L470.2,134.3 L471.7,133.4 L473.3,132.5 L474.9,131.6 L476.7,130.6 L478.4,129.7 L480.2,128.8 L481.9,127.9 L483.6,127.1 L485.1,126.3 L486.5,125.6 L487.9,125.0 L489.1,124.4 L490.4,123.9 L491.6,123.4 L492.8,122.9 L494.0,122.4 L495.2,121.8 L496.5,121.2 L497.7,120.5 L499.0,119.9 L500.2,119.2 L501.5,118.5 L502.8,117.9 L504.0,117.3 L505.3,116.7 L506.6,116.2 L507.9,115.7 L509.2,115.2 L510.5,114.8 L511.8,114.4 L513.0,114.0 L514.2,113.6 L515.4,113.2 L516.5,112.8 L517.5,112.5 L518.5,112.1 L519.5,111.8 L520.5,111.4 L521.5,111.1 L522.5,110.7 L523.5,110.2 L524.7,109.7 L525.9,109.0 L527.2,108.4 L528.6,107.7 L529.8,107.0 L530.9,106.4 L531.9,105.9 L532.6,105.5" fill="none" stroke="#fb910c" stroke-width="6.8" stroke-linecap="round" stroke-linejoin="round"/><g fill="none" stroke="#c60cf0" stroke-width="9.4" stroke-linecap="round" stroke-linejoin="round"><path d="M582.1,112.6h0"/><path d="M503.8,175.6 L503.8,179.6" stroke-width="9.4"/><path d="M530.2,174.8h0"/><path d="M555.8,189.6h0"/><path d="M477.9,197.5h0"/><path d="M477.9,208.1h0"/><path d="M452.0,211.1h0"/><path d="M452.0,224.3h0"/><path d="M478.3,198.4h0"/><path d="M478.3,208.2h0"/></g><g fill="none" stroke="#3000f2" stroke-width="9.4" stroke-linecap="round" stroke-linejoin="round"><path d="M492.4,159.8h0"/><path d="M496.4,166.9h0"/><path d="M514.4,166.9h0"/><path d="M543.4,165.6h0"/><path d="M550.5,164.6h0"/><path d="M503.8,209.2h0"/><path d="M435.9,220.8h0"/></g><g fill="none" stroke="#fb910c" stroke-width="9.4" stroke-linecap="round" stroke-linejoin="round"><path d="M592.5,67.2h0"/><path d="M561.5,94.9h0"/><path d="M581.7,91.5 L581.7,95.8" stroke-width="9.4"/><path d="M556.4,116.9h0"/></g><rect x="74.1" y="5.0" width="559.6" height="347.0" fill="none" stroke="#000" stroke-width="2.5"/><path d="M95.02,352.0v-6.8M95.02,5.0v6.8M115.74,352.0v-9.8M115.74,5.0v9.8M136.45,352.0v-6.8M136.45,5.0v6.8M157.17,352.0v-6.8M157.17,5.0v6.8M177.89,352.0v-6.8M177.89,5.0v6.8M198.61,352.0v-6.8M198.61,5.0v6.8M219.33,352.0v-9.8M219.33,5.0v9.8M240.04,352.0v-6.8M240.04,5.0v6.8M260.76,352.0v-6.8M260.76,5.0v6.8M281.48,352.0v-6.8M281.48,5.0v6.8M302.20,352.0v-6.8M302.20,5.0v6.8M322.92,352.0v-9.8M322.92,5.0v9.8M343.63,352.0v-6.8M343.63,5.0v6.8M364.35,352.0v-6.8M364.35,5.0v6.8M385.07,352.0v-6.8M385.07,5.0v6.8M405.79,352.0v-6.8M405.79,5.0v6.8M426.51,352.0v-9.8M426.51,5.0v9.8M447.22,352.0v-6.8M447.22,5.0v6.8M467.94,352.0v-6.8M467.94,5.0v6.8M488.66,352.0v-6.8M488.66,5.0v6.8M509.38,352.0v-6.8M509.38,5.0v6.8M530.10,352.0v-9.8M530.10,5.0v9.8M550.81,352.0v-6.8M550.81,5.0v6.8M571.53,352.0v-6.8M571.53,5.0v6.8M592.25,352.0v-6.8M592.25,5.0v6.8M612.97,352.0v-6.8M612.97,5.0v6.8M74.1,338.12h6.8M633.7,338.12h-6.8M74.1,324.24h6.8M633.7,324.24h-6.8M74.1,310.36h6.8M633.7,310.36h-6.8M74.1,296.48h6.8M633.7,296.48h-6.8M74.1,282.60h9.8M633.7,282.60h-9.8M74.1,268.72h6.8M633.7,268.72h-6.8M74.1,254.84h6.8M633.7,254.84h-6.8M74.1,240.96h6.8M633.7,240.96h-6.8M74.1,227.08h6.8M633.7,227.08h-6.8M74.1,213.20h9.8M633.7,213.20h-9.8M74.1,199.32h6.8M633.7,199.32h-6.8M74.1,185.44h6.8M633.7,185.44h-6.8M74.1,171.56h6.8M633.7,171.56h-6.8M74.1,157.68h6.8M633.7,157.68h-6.8M74.1,143.80h9.8M633.7,143.80h-9.8M74.1,129.92h6.8M633.7,129.92h-6.8M74.1,116.04h6.8M633.7,116.04h-6.8M74.1,102.16h6.8M633.7,102.16h-6.8M74.1,88.28h6.8M633.7,88.28h-6.8M74.1,74.40h9.8M633.7,74.40h-9.8M74.1,60.52h6.8M633.7,60.52h-6.8M74.1,46.64h6.8M633.7,46.64h-6.8M74.1,32.76h6.8M633.7,32.76h-6.8M74.1,18.88h6.8M633.7,18.88h-6.8" stroke="#000" stroke-width="2" fill="none"/><text transform="translate(117.2,376.8) scale(1,1.1)" font-size="17.5" text-anchor="middle">500</text><text transform="translate(220.8,376.8) scale(1,1.1)" font-size="17.5" text-anchor="middle">600</text><text transform="translate(324.4,376.8) scale(1,1.1)" font-size="17.5" text-anchor="middle">700</text><text transform="translate(428.0,376.8) scale(1,1.1)" font-size="17.5" text-anchor="middle">800</text><text transform="translate(531.6,376.8) scale(1,1.1)" font-size="17.5" text-anchor="middle">900</text><text transform="translate(609.3,376.8) scale(1,1.1)" font-size="17.5">1000</text><text transform="translate(61.9,360.0) scale(1,1.1)" font-size="17.5" text-anchor="end">0.0</text><text transform="translate(61.9,290.6) scale(1,1.1)" font-size="17.5" text-anchor="end">0.1</text><text transform="translate(61.9,221.2) scale(1,1.1)" font-size="17.5" text-anchor="end">0.2</text><text transform="translate(61.9,151.8) scale(1,1.1)" font-size="17.5" text-anchor="end">0.3</text><text transform="translate(61.9,82.4) scale(1,1.1)" font-size="17.5" text-anchor="end">0.4</text><text transform="translate(61.9,13.0) scale(1,1.1)" font-size="17.5" text-anchor="end">0.5</text><text x="372" y="406.7" font-size="23" text-anchor="middle"><tspan font-style="italic">T</tspan> (°C)</text><text transform="translate(15.8,177.9) rotate(-90)" font-size="23" text-anchor="middle">Ti (apfu)</text>
<defs><clipPath id="pc"><rect x="74" y="5" width="560" height="347"/></clipPath></defs>
<line x1="467.6" y1="112.4" x2="479" y2="128.5" stroke="#222" stroke-width="1.3"/>
<line x1="464.7" y1="195.1" x2="462.7" y2="234" stroke="#222" stroke-width="1.3"/>
<line x1="357.9" y1="246.7" x2="365.2" y2="257.6" stroke="#222" stroke-width="1.3"/>
<text x="429.3" y="106.8" font-size="18.4" fill="#fb910c">Bio(TCC)</text>
<text x="442.8" y="249" font-size="18.4" fill="#c60cf0">Bio(D)</text>
<text x="363.8" y="272.5" font-size="18.4" fill="#10f272">Bi(W)</text>
<text x="489" y="52.3" font-size="31">HQ-36</text>
<text transform="translate(398.2,78.6) rotate(-60)" font-size="22" text-anchor="middle" dominant-baseline="central">HG02</text>
<rect x="108.7" y="29.1" width="203.5" height="69.3" fill="#fff" stroke="#222" stroke-width="1.3"/>
<circle cx="120.7" cy="48" r="5.5" fill="#3ef414"/>
<circle cx="121" cy="79.4" r="5.5" fill="#e2231b"/>
<circle cx="226" cy="47.8" r="5.5" fill="#3000f2"/>
<circle cx="225.3" cy="79.6" r="5.5" fill="#000"/>
<text x="140.8" y="56.1" font-size="23.2">WG90</text>
<text x="140.8" y="85.6" font-size="23.2">H97</text>
<text x="247.6" y="56.1" font-size="23.2">HG02</text>
<text x="247.6" y="85.6" font-size="23.2">FP21</text>
<rect x="501.5" y="227.8" width="107.8" height="100.2" fill="#fff" stroke="#222" stroke-width="1.3"/>
<circle cx="515.2" cy="247.8" r="5.5" fill="#c60cf0"/>
<circle cx="515.2" cy="277.9" r="5.5" fill="#3000f2"/>
<circle cx="515.2" cy="307.6" r="5.5" fill="#fb910c"/>
<text x="538" y="254.5" font-size="23.2">PD93</text>
<text x="535" y="284.8" font-size="23.2">VM94</text>
<text x="535.5" y="315.2" font-size="23.2">PDB95</text>
</svg></body></html>
